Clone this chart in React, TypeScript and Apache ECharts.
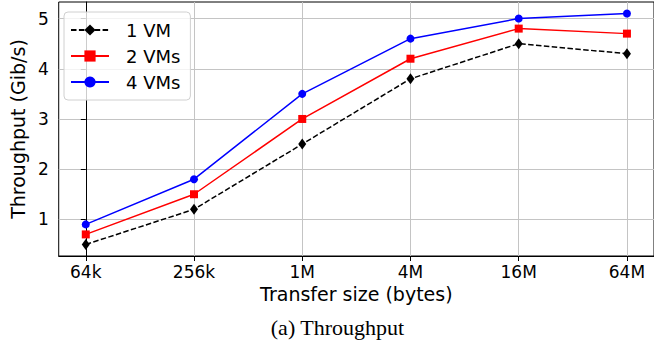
import React, { useEffect, useRef } from "react";
import * as echarts from "echarts";

const categories = ["64k", "256k", "1M", "4M", "16M", "64M"];
const vm1 = [0.5, 1.2, 2.5, 3.8, 4.5, 4.3];
const vm2 = [0.7, 1.5, 3.0, 4.2, 4.8, 4.7];
const vm4 = [0.9, 1.8, 3.5, 4.6, 5.0, 5.1];
const yTicks = [1, 2, 3, 4, 5];
const xTicks = [0, 1, 2, 3, 4, 5];

const FONT = "DejaVu Sans";

export default function App() {
  const ref = useRef<HTMLDivElement>(null);
  useEffect(() => {
    if (!ref.current) return;
    const chart = echarts.init(ref.current, null, { renderer: "svg" });
    const toPts = (arr: number[]) => arr.map((v, i) => [i, v]);
    chart.setOption({
      animation: false,
      grid: {
        left: 55,
        right: -1.6,
        top: 2,
        bottom: 87,
        show: true,
        borderColor: "#000",
        borderWidth: 1,
        backgroundColor: "transparent",
      },
      xAxis: {
        type: "value",
        min: -0.25,
        max: 5.25,
        name: "Transfer size (bytes)",
        nameLocation: "middle",
        nameGap: 27,
        nameTextStyle: { fontFamily: FONT, fontSize: 19, color: "#000" },
        axisLine: { show: true, lineStyle: { color: "#000", width: 1 } },
        axisTick: { show: true, length: 5, customValues: xTicks, lineStyle: { color: "#000" } },
        axisLabel: {
          customValues: xTicks,
          margin: 7,
          fontFamily: FONT,
          fontSize: 17,
          color: "#000",
          formatter: (v: number) => (Number.isInteger(v) && categories[v] !== undefined ? categories[v] : ""),
        },
        splitLine: { show: true, lineStyle: { color: "#c4c4c4", width: 1 } },
      },
      yAxis: {
        type: "value",
        min: 0.27,
        max: 5.33,
        name: "Throughput (Gib/s)",
        nameLocation: "middle",
        nameGap: 28,
        nameRotate: 90,
        nameTextStyle: { fontFamily: FONT, fontSize: 19, color: "#000" },
        axisLine: { show: true, lineStyle: { color: "#000", width: 1 } },
        axisTick: { show: true, length: 5, customValues: yTicks, lineStyle: { color: "#000" } },
        axisLabel: {
          customValues: yTicks,
          margin: 10,
          fontFamily: FONT,
          fontSize: 17,
          color: "#000",
        },
        splitLine: { show: true, lineStyle: { color: "#c4c4c4", width: 1 } },
      },
      legend: {
        orient: "vertical",
        left: 64,
        top: 12,
        itemWidth: 38,
        itemHeight: 14,
        itemGap: 8,
        padding: [9, 10, 9, 6],
        backgroundColor: "rgba(255,255,255,0.8)",
        borderColor: "#d0d0d0",
        borderWidth: 1,
        borderRadius: 4,
        textStyle: { fontFamily: FONT, fontSize: 18, color: "#000", padding: [0, 0, 0, 12], lineHeight: 17 },
        data: ["1 VM", "2 VMs", "4 VMs"],
      },
      series: [
        {
          name: "1 VM",
          type: "line",
          data: toPts(vm1),
          symbol: "diamond",
          symbolSize: [8, 11],
          lineStyle: { color: "#000", width: 1.5, type: [5.5, 2.4] },
          itemStyle: { color: "#000" },
        },
        {
          name: "2 VMs",
          type: "line",
          data: toPts(vm2),
          symbol: "rect",
          symbolSize: 8,
          lineStyle: { color: "#ff0000", width: 1.5 },
          itemStyle: { color: "#ff0000" },
        },
        {
          name: "4 VMs",
          type: "line",
          data: toPts(vm4),
          symbol: "circle",
          symbolSize: 8,
          lineStyle: { color: "#0000ff", width: 1.5 },
          itemStyle: { color: "#0000ff" },
        },
      ],
      graphic: [
        {
          type: "text",
          x: 337.5,
          y: 327,
          style: {
            text: "(a) Throughput",
            fontFamily: "Liberation Serif",
            fontSize: 22,
            fill: "#000",
            align: "center",
            verticalAlign: "middle",
          },
        },
      ],
    });
    return () => chart.dispose();
  }, []);
  return <div ref={ref} style={{ width: 654, height: 343, position: "absolute", left: 0, top: 0 }} />;
}
